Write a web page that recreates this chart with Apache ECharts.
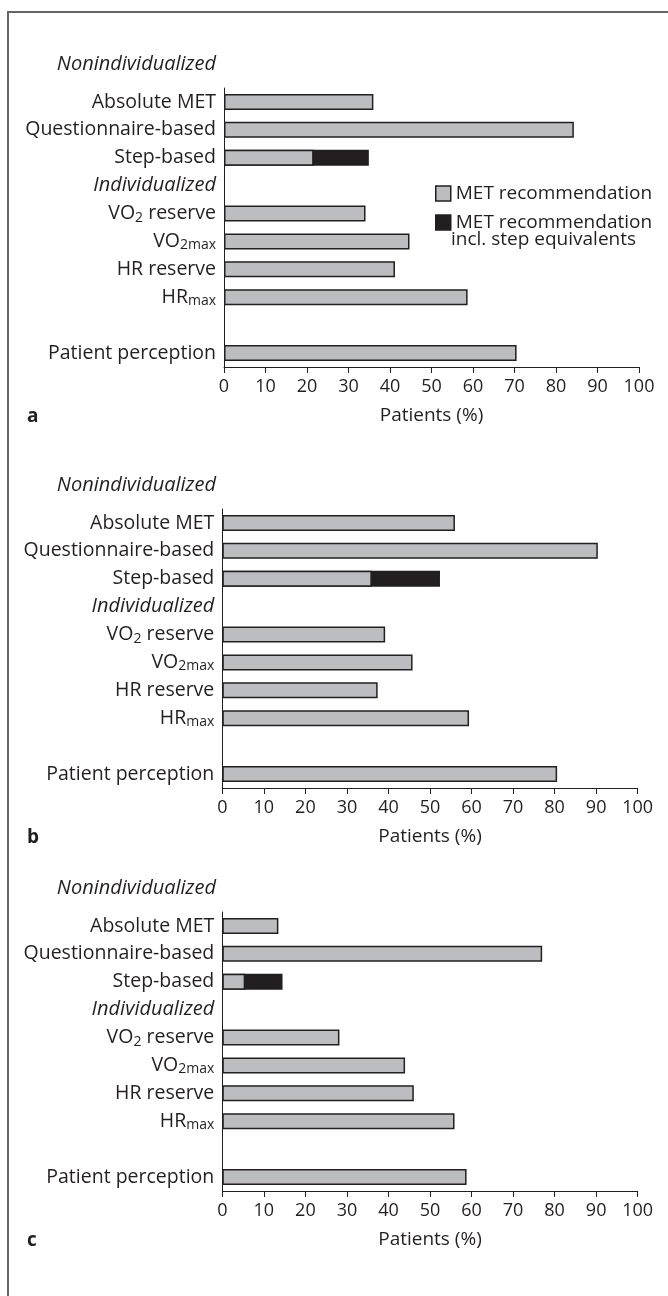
<!DOCTYPE html>
<html><head><meta charset="utf-8">
<script src="https://cdn.jsdelivr.net/npm/echarts@6/dist/echarts.min.js"></script>
<style>html,body{margin:0;padding:0;background:#fff}#c{width:668px;height:1296px}</style>
</head><body><div id="c"></div>
<script>
// ---- data ----
const categories = ['Absolute MET','Questionnaire-based','Step-based','Individualized','VO2 reserve','VO2max','HR reserve','HRmax','','Patient perception'];
const groupHeader = 'Nonindividualized';
const panelLetters = ['a','b','c'];
const xAxisTitle = 'Patients (%)';
const seriesNames = ['MET recommendation','MET recommendation incl. step equivalents'];
const metA  = [36.0, 84.3, 21.6, null, 34.1, 44.7, 41.2, 58.7, null, 70.5];
const stepA = [null, null, 34.9, null, null, null, null, null, null, null];
const metB  = [56.0, 90.4, 36.0, null, 39.2, 45.8, 37.4, 59.4, null, 80.6];
const stepB = [null, null, 52.4, null, null, null, null, null, null, null];
const metC  = [13.5, 77.0, 5.5, null, 28.2, 44.0, 46.1, 55.9, null, 58.8];
const stepC = [null, null, 14.5, null, null, null, null, null, null, null];

const metAll = [metA, metB, metC];
const stepAll = [stepA, stepB, stepC];

// ---- style/layout ----
const FONT = 'Open Sans';
const FS = 19.5;      // category labels
const FS_IT = 20;     // italic group labels
const FS_TICK = 18;   // tick numbers
const FS_LEG = 19;
const INK = '#231f20';
const GRAY = '#bcbdc0';
const grids = [
  {left: 224, top: 88, width: 415, height: 279},
  {left: 222.3, top: 509, width: 415.4, height: 279},
  {left: 222.3, top: 912, width: 415.4, height: 279}
];

const labelMap = {
  'VO2 reserve': 'VO{sub|2} reserve',
  'VO2max': 'VO{sub|2max}',
  'HRmax': 'HR{sub|max}',
  'Individualized': '{it|Individualized}'
};

const chart = echarts.init(document.getElementById('c'), null, {renderer: 'canvas'});

const xAxes = [], yAxes = [], series = [], graphics = [];
grids.forEach((g, i) => {
  xAxes.push({
    gridIndex: i, type: 'value', min: 0, max: 100, interval: 10,
    name: xAxisTitle, nameLocation: 'middle', nameGap: 39,
    nameTextStyle: {fontFamily: FONT, fontSize: 19, color: INK},
    axisLine: {show: true, lineStyle: {color: INK, width: 1}},
    axisTick: {show: true, length: 6, lineStyle: {color: INK}},
    axisLabel: {fontFamily: FONT, fontSize: FS_TICK, color: INK, margin: 11},
    splitLine: {show: false}
  });
  yAxes.push({
    gridIndex: i, type: 'category', data: categories, inverse: true,
    axisLine: {show: true, lineStyle: {color: INK, width: 1}},
    axisTick: {show: false},
    axisLabel: {
      fontFamily: FONT, fontSize: FS, color: INK, margin: 8,
      formatter: v => labelMap[v] || v,
      rich: {
        sub: {fontFamily: FONT, fontSize: 14, color: INK, padding: [8, 0, 0, 0]},
        it: {fontFamily: FONT, fontSize: FS_IT, color: INK, fontStyle: 'italic'}
      }
    }
  });
  series.push({
    name: seriesNames[1], type: 'bar', xAxisIndex: i, yAxisIndex: i,
    data: stepAll[i], barWidth: 16, barGap: '-100%',
    itemStyle: {color: INK, borderColor: INK, borderWidth: 1.5}
  });
  series.push({
    name: seriesNames[0], type: 'bar', xAxisIndex: i, yAxisIndex: i,
    data: metAll[i], barWidth: 16, barGap: '-100%',
    itemStyle: {color: GRAY, borderColor: INK, borderWidth: 1.5}
  });
  graphics.push({
    type: 'text', x: 216, y: g.top + 14 - 38,
    style: {text: groupHeader, fontFamily: FONT, fontSize: FS_IT, fontStyle: 'italic', fill: INK,
            align: 'right', verticalAlign: 'middle'}
  });
  graphics.push({
    type: 'text', x: 27, y: g.top + g.height + 50,
    style: {text: panelLetters[i], fontFamily: FONT, fontSize: 19, fontWeight: 'bold', fill: INK,
            align: 'left', verticalAlign: 'middle'}
  });
});

graphics.push({
  type: 'polyline', shape: {points: [[8, 1296], [8, 12], [668, 12]]},
  style: {stroke: '#666', lineWidth: 2, fill: null}
});
graphics.push({
  type: 'text', x: 451, y: 240,
  style: {text: 'incl. step equivalents', fontFamily: FONT, fontSize: FS_LEG, fill: INK,
          align: 'left', verticalAlign: 'middle'}
});

chart.setOption({
  animation: false,
  backgroundColor: '#fff',
  grid: grids.map(g => Object.assign({containLabel: false}, g)),
  xAxis: xAxes,
  yAxis: yAxes,
  legend: {
    orient: 'vertical', left: 430, top: 179, itemWidth: 15, itemHeight: 15, itemGap: 10,
    selectedMode: false,
    textStyle: {fontFamily: FONT, fontSize: FS_LEG, color: INK},
    formatter: n => n === seriesNames[1] ? 'MET recommendation' : n,
    data: [
      {name: seriesNames[0], icon: 'rect', itemStyle: {color: GRAY, borderColor: INK, borderWidth: 1.5}},
      {name: seriesNames[1], icon: 'rect', itemStyle: {color: INK, borderColor: INK, borderWidth: 1.5}}
    ]
  },
  series: series,
  graphic: graphics
});
</script></body></html>
